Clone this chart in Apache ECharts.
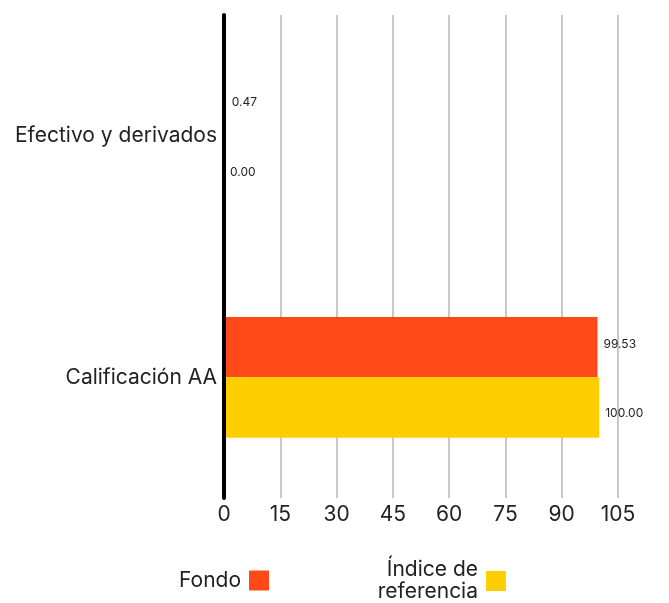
<!DOCTYPE html>
<html>
<head>
<meta charset="utf-8">
<script src="https://cdn.jsdelivr.net/npm/echarts@6/dist/echarts.min.js"></script>
<style>html,body{margin:0;padding:0;background:#fff}#c{width:669px;height:603px}</style>
</head>
<body>
<div id="c"></div>
<script>
const categories = ['Efectivo y derivados', 'Calificación AA'];
const fondoValues = [0.47, 99.53];
const indiceValues = [0.00, 100.00];
const xTicks = { min: 0, max: 105, interval: 15 };
const seriesNames = ['Fondo', 'Índice de referencia'];

const FONT = 'Inter, "Noto Sans", sans-serif';
const chart = echarts.init(document.getElementById('c'), null, { renderer: 'canvas' });
const labelStyle = (dy) => ({
  show: true, position: 'right', distance: 6, fontSize: 12, color: '#222', fontFamily: FONT,
  offset: [0, dy],
  formatter: p => p.value.toFixed(2)
});
chart.setOption({
  animation: false,
  textStyle: { fontFamily: FONT },
  grid: { left: 224, right: 51, top: 15, bottom: 105, containLabel: false },
  legend: [
    {
      data: [seriesNames[0]], right: 400, top: 570, align: 'right', orient: 'horizontal', padding: 0,
      itemWidth: 20, itemHeight: 20, icon: 'rect',
      textStyle: { fontSize: 21, color: '#222', fontFamily: FONT, padding: [0, 3, 0, 0] }
    },
    {
      data: [seriesNames[1]], right: 163, top: 559, align: 'right', padding: 0,
      itemWidth: 20, itemHeight: 20, icon: 'rect',
      formatter: () => 'Índice de\nreferencia',
      textStyle: { fontSize: 21, color: '#222', fontFamily: FONT, lineHeight: 22, align: 'right', padding: [0, 3, 0, 0] }
    }
  ],
  xAxis: {
    type: 'value', min: xTicks.min, max: xTicks.max, interval: xTicks.interval,
    axisLine: { show: false }, axisTick: { show: false },
    axisLabel: { fontSize: 21, color: '#222', margin: 6, fontFamily: FONT },
    splitLine: { show: true, lineStyle: { color: '#c8c8c8', width: 2 } }
  },
  yAxis: {
    type: 'category', data: categories, inverse: true, z: 5,
    axisLine: { show: true, lineStyle: { color: '#000', width: 4 } },
    axisTick: { show: false },
    axisLabel: { fontSize: 21, color: '#222', margin: 7, fontFamily: FONT }
  },
  series: [
    { name: seriesNames[0], type: 'bar', data: fondoValues, barGap: '0%', barCategoryGap: '50%',
      itemStyle: { color: '#FF4A17' }, label: labelStyle(-3) },
    { name: seriesNames[1], type: 'bar', data: indiceValues, barGap: '0%', barCategoryGap: '50%',
      itemStyle: { color: '#FFCE00' }, label: labelStyle(6) }
  ]
});
</script>
</body>
</html>
